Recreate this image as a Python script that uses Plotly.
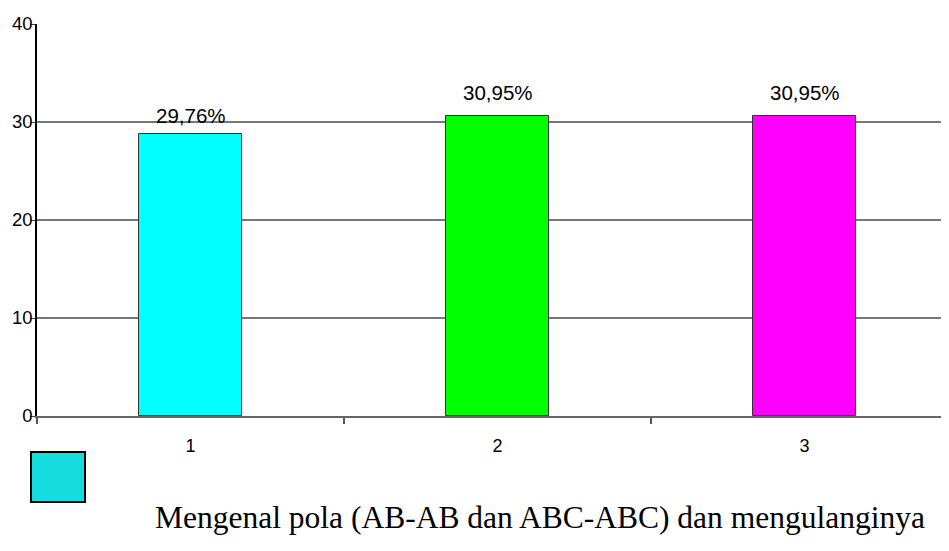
import plotly.graph_objects as go

categories = [1, 2, 3]
tick_labels = ["1", "2", "3"]
bar_values = [28.8, 30.6, 30.6]
value_labels = ["29,76%", "30,95%", "30,95%"]
bar_colors = ["#00FFFF", "#00FF00", "#FF00FF"]
title_text = "Mengenal pola (AB-AB dan ABC-ABC) dan mengulanginya"
y_ticks = [0, 10, 20, 30, 40]

OFF = 8  # page body margin
W, H = 949 - OFF, 551 - OFF
ml, mt = 37 - OFF, 24 - OFF
mr = 0
mb = H - (416 - OFF)
pw, ph = W - ml - mr, H - mt - mb

fig = go.Figure()
fig.add_trace(go.Bar(
    x=categories, y=bar_values, width=0.333,
    marker=dict(color=bar_colors, line=dict(color="#333333", width=1)),
    showlegend=False, hoverinfo="skip",
))

label_gaps = [5, 10, 10]
for c, v, t, g in zip(categories, bar_values, value_labels, label_gaps):
    fig.add_annotation(x=c, y=v, text=t, showarrow=False, yanchor="bottom",
                       yshift=g, font=dict(family="Liberation Sans, Arial", size=20.5, color="#000"))

# page pixel -> paper coords
def px_x(p):
    return (p - OFF - ml) / pw

def px_y(p):
    return (H - mb - (p - OFF)) / ph

fig.add_shape(type="rect", xref="paper", yref="paper",
              x0=px_x(31), x1=px_x(85), y0=px_y(502), y1=px_y(452),
              fillcolor="#17DEDE", line=dict(color="#000000", width=2))

fig.add_annotation(xref="paper", yref="paper", x=px_x(540), y=px_y(518),
                   text=title_text, showarrow=False, xanchor="center", yanchor="middle",
                   font=dict(family="Liberation Serif, Times New Roman", size=31.5, color="#000"))

fig.update_layout(
    width=W, height=H,
    margin=dict(l=ml, r=mr, t=mt, b=mb, autoexpand=False),
    plot_bgcolor="white", paper_bgcolor="white",
    bargap=0,
    font=dict(family="Liberation Sans, Arial", size=18, color="#000"),
)
fig.update_xaxes(
    automargin=False,
    range=[0.5, 0.5 + pw / 307.0],
    tickmode="array", tickvals=categories, ticktext=tick_labels,
    ticks="outside", ticklen=12, tickcolor="rgba(0,0,0,0)",
    showgrid=False, zeroline=False,
    showline=True, linecolor="#666666", linewidth=2,
    minor=dict(tickvals=[0.5, 1.5, 2.5], ticks="outside", ticklen=6,
               tickcolor="#555555", tickwidth=2, showgrid=False),
    tickfont=dict(size=18),
)
fig.update_yaxes(
    automargin=False,
    range=[0, 40], tickvals=y_ticks,
    ticks="outside", ticklen=5, tickcolor="#444444",
    ticklabelstandoff=-6,
    showgrid=True, gridcolor="#777777", gridwidth=1.5,
    zeroline=False,
    showline=True, linecolor="#000000", linewidth=1.5,
    tickfont=dict(size=18.5),
)

fig.write_html("out.html")
